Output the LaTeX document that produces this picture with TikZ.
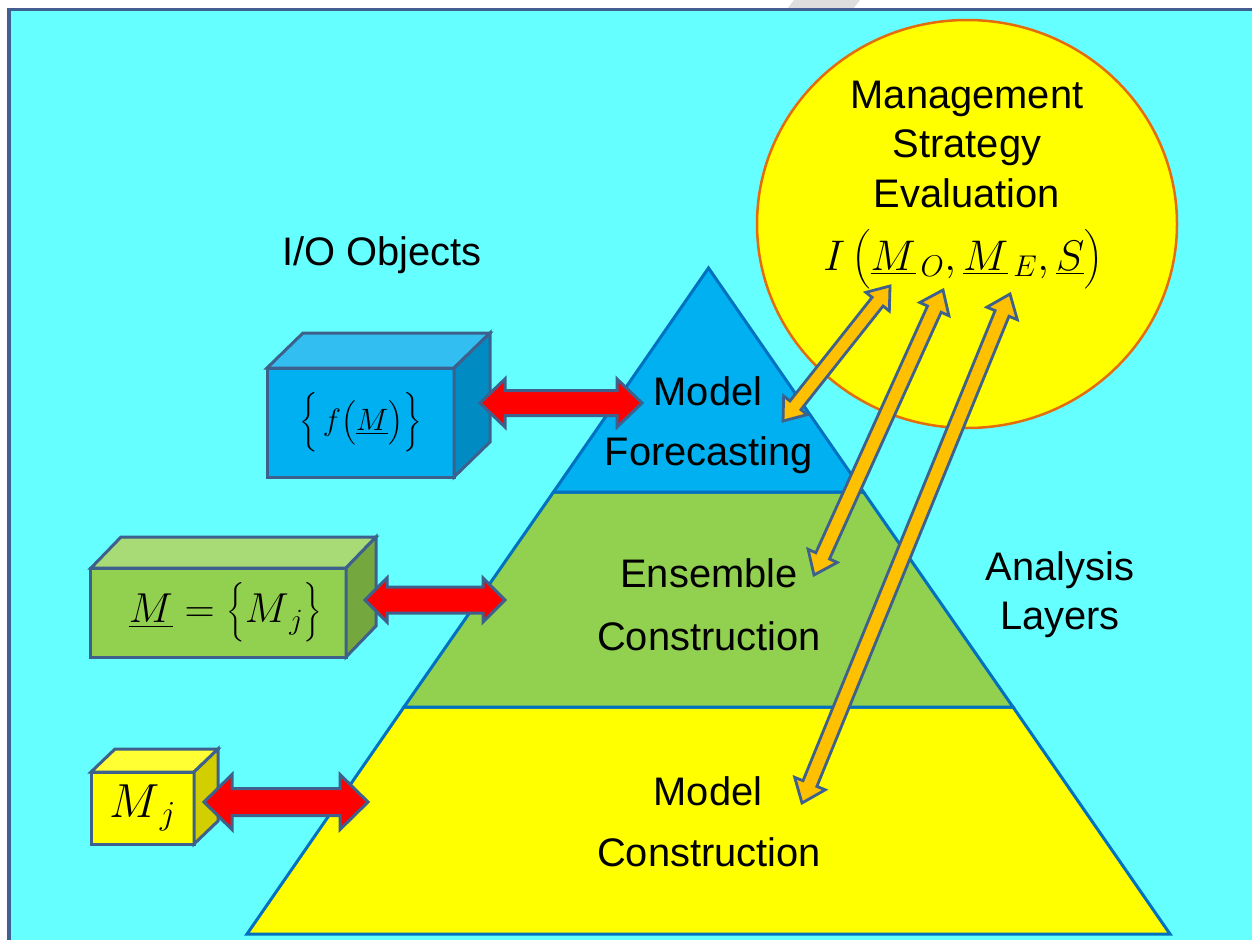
\RequirePackage{fix-cm}
\documentclass[tikz,border=0pt]{standalone}
\usepackage{amsmath}
\usepackage[no-math]{fontspec}
\setmainfont{Liberation Sans}
\usetikzlibrary{calc,shapes.geometric}

\definecolor{bgcyan}{HTML}{66FFFF}
\definecolor{frameblue}{RGB}{65,95,145}
\definecolor{edgeblue}{HTML}{0070C0}
\definecolor{layerblue}{HTML}{00B0F0}
\definecolor{layergreen}{HTML}{92D050}
\definecolor{layeryellow}{HTML}{FFFF00}
\definecolor{ringorange}{HTML}{E46C0A}
\definecolor{cubeedge}{RGB}{62,96,140}
\definecolor{cubebluetop}{HTML}{33BEF1}
\definecolor{cubeblueside}{HTML}{008CC3}
\definecolor{cubegreentop}{HTML}{A8DA76}
\definecolor{cubegreenside}{HTML}{74A83F}
\definecolor{cubeyellowtop}{HTML}{FFFF33}
\definecolor{cubeyellowside}{HTML}{D2CE00}
\definecolor{arrowred}{HTML}{FF0000}
\definecolor{arrowgold}{HTML}{FFC000}

\tikzset{
  txt/.style={font=\fontsize{40}{48}\selectfont, inner sep=0pt, anchor=base, text=black},
  layer/.style={draw=edgeblue, line width=3bp, line join=miter},
  frontface/.style={draw=cubeedge, line width=3bp, inner sep=0pt, outer sep=0pt, line join=miter},
  face/.style={draw=cubeedge, line width=3bp, line join=miter},
  redarrow/.style={fill=arrowred, draw=cubeedge, line width=3bp, line join=miter},
  goldarrow/.style={fill=arrowgold, draw=cubeedge, line width=2.8bp, line join=miter},
}

% double-headed block arrow between two named points
% #1, #2 tips; #3 shaft half width; #4 head half width; #5 head length; #6 style
\newcommand{\dblarrow}[6]{%
  \coordinate (dA) at ($(#1)!#5!(#2)$);
  \coordinate (dB) at ($(#2)!#5!(#1)$);
  \draw[#6] (#1) -- ($(dA)!#4!90:(#2)$) -- ($(dA)!#3!90:(#2)$)
    -- ($(dB)!#3!-90:(#1)$) -- ($(dB)!#4!-90:(#1)$) -- (#2)
    -- ($(dB)!#4!90:(#1)$) -- ($(dB)!#3!90:(#1)$)
    -- ($(dA)!#3!-90:(#2)$) -- ($(dA)!#4!-90:(#2)$) -- cycle;
}

\begin{document}
\begin{tikzpicture}[x=1bp, y=-1bp]
\useasboundingbox (0,0) rectangle (1252,940);
\fill[white] (0,0) rectangle (1252,940);
\fill[black!13] (794,0) -- (860,0) -- (853,9) -- (787,9) -- cycle;

% slide panel
\fill[bgcyan] (9,9.5) rectangle (1262,952);
\draw[frameblue, line width=3.5bp] (9,952) -- (9,9.5) -- (1262,9.5);

% analysis layers
\filldraw[layer, fill=layeryellow] (404,707) -- (1013,707) -- (1170,934) -- (247,934) -- cycle;
\filldraw[layer, fill=layergreen] (553.5,492) -- (863.5,492) -- (1013,707) -- (404,707) -- cycle;
\filldraw[layer, fill=layerblue] (708.5,268) -- (863.5,492) -- (553.5,492) -- cycle;

% evaluation disc
\node[ellipse, draw=ringorange, fill=layeryellow, line width=2.5bp,
      minimum width=420bp, minimum height=408bp, inner sep=0pt] (mse) at (967,224) {};
\node[txt] (mse1) at (967,108) {Management};
\node[txt] (mse2) at (967,157) {Strategy};
\node[txt] (mse3) at (967,207) {Evaluation};
\node[txt, font=\fontsize{43}{50}\selectfont] (msef) at (963,270)
      {$I\,\bigl(\underline{M}_{\,O},\underline{M}_{\,E},\underline{S}\bigr)$};

% labels
\node[txt] (io) at (382,265) {I/O Objects};
\node[txt] (mf1) at (708,405) {Model};
\node[txt] (mf2) at (709,465) {Forecasting};
\node[txt] (ec1) at (709,587) {Ensemble};
\node[txt] (ec2) at (709,650) {Construction};
\node[txt] (mc1) at (708,805) {Model};
\node[txt] (mc2) at (709,866) {Construction};
\node[txt] (al1) at (1060,580) {Analysis};
\node[txt] (al2) at (1060,629) {Layers};

% I/O object blocks
\node[frontface, fill=layerblue, minimum width=187bp, minimum height=109bp,
      font=\fontsize{31}{37}\selectfont] (fcube) at (360.5,422.5)
      {$\Bigl\{\,f\bigl(\underline{M}\bigr)\Bigr\}$};
\draw[face, fill=cubebluetop] (fcube.north west) -- ++(36,-35) -- ++(187,0) -- (fcube.north east) -- cycle;
\draw[face, fill=cubeblueside] (fcube.north east) -- ++(36,-35) -- ++(0,109) -- (fcube.south east) -- cycle;

\node[frontface, fill=layergreen, minimum width=255bp, minimum height=89bp,
      font=\fontsize{42}{50}\selectfont] (mcube) at (218.5,612.5)
      {\hspace*{14bp}$\underline{M}=\bigl\{M_{\,j}\bigr\}$};
\draw[face, fill=cubegreentop] (mcube.north west) -- ++(30,-31) -- ++(255,0) -- (mcube.north east) -- cycle;
\draw[face, fill=cubegreenside] (mcube.north east) -- ++(30,-31) -- ++(0,89) -- (mcube.south east) -- cycle;

\node[frontface, fill=layeryellow, minimum width=103bp, minimum height=72bp,
      font=\fontsize{48}{56}\selectfont] (jcube) at (142.5,808)
      {$M_{\,j}$};
\draw[face, fill=cubeyellowtop] (jcube.north west) -- ++(24,-23) -- ++(103,0) -- (jcube.north east) -- cycle;
\draw[face, fill=cubeyellowside] (jcube.north east) -- ++(24,-23) -- ++(0,72) -- (jcube.south east) -- cycle;

% links between blocks and layers
\coordinate (r1a) at (480,403);  \coordinate (r1b) at (642,403);
\coordinate (r2a) at (365,600);  \coordinate (r2b) at (505,600);
\coordinate (r3a) at (204,802);  \coordinate (r3b) at (368,802);
\dblarrow{r1a}{r1b}{12.5bp}{24bp}{25bp}{redarrow}
\dblarrow{r2a}{r2b}{13bp}{22bp}{22bp}{redarrow}
\dblarrow{r3a}{r3b}{13.5bp}{27.5bp}{28bp}{redarrow}

% links between evaluation and layers
\coordinate (o1a) at (890,286);   \coordinate (o1b) at (783,421);
\coordinate (o2a) at (943,290);   \coordinate (o2b) at (814,575);
\coordinate (o3a) at (1010,294);  \coordinate (o3b) at (802,803);
\dblarrow{o1a}{o1b}{7bp}{15bp}{20bp}{goldarrow}
\dblarrow{o2a}{o2b}{7.5bp}{16bp}{21bp}{goldarrow}
\dblarrow{o3a}{o3b}{7.5bp}{16.5bp}{21bp}{goldarrow}
\end{tikzpicture}
\end{document}
